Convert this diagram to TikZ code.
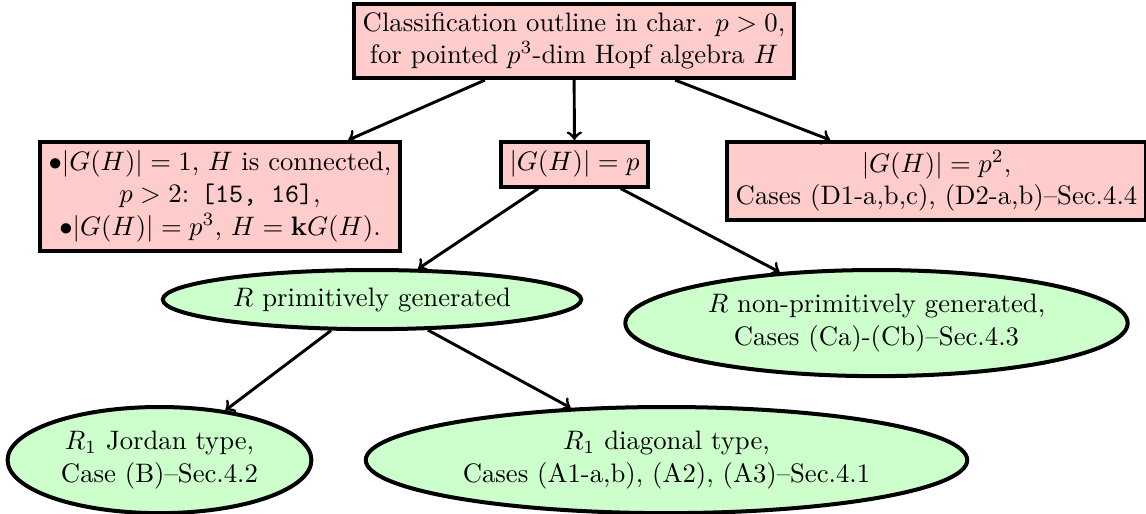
\documentclass[tikz,border=0pt]{standalone}
\usetikzlibrary{shapes.geometric}
\begin{document}
\begin{tikzpicture}[x=0.3745pt,y=-0.3745pt,
  pinkbox/.style={draw, line width=1.5pt, fill=red!20, align=center, rectangle},
  greenell/.style={draw, line width=1.5pt, fill=green!20, align=center, ellipse},
  arr/.style={->, line width=1.1pt}]
\useasboundingbox (0,0) rectangle (1146,513);
\node[pinkbox] (top) at (574,41) {Classification outline in char. $p>0$,\\ for pointed $p^3$-dim Hopf algebra $H$};
\node[pinkbox, anchor=north] (left) at (220,140) {$\bullet|G(H)|=1$, $H$ is connected,\\ $p>2$: \texttt{[15, 16]},\\ $\bullet|G(H)|=p^3$, $H=\mathbf{k}G(H)$.};
\node[pinkbox, anchor=north] (mid) at (574.5,140) {$|G(H)|=p$};
\node[pinkbox, anchor=north] (right) at (936.5,140) {$|G(H)|=p^2$,\\ Cases (D1-a,b,c), (D2-a,b)--Sec.4.4};
\node[greenell, anchor=north] (prim) at (372,268) {$R$ primitively generated};
\node[greenell, anchor=north] (nonprim) at (876.5,268) {$R$ non-primitively generated,\\ Cases (Ca)-(Cb)--Sec.4.3};
\node[greenell, anchor=north] (jordan) at (159.5,405) {$R_1$ Jordan type,\\ Case (B)--Sec.4.2};
\node[greenell, anchor=north] (diag) at (666.5,405) {$R_1$ diagonal type,\\ Cases (A1-a,b), (A2), (A3)--Sec.4.1};
\draw[arr] (top) -- (left);
\draw[arr] (top) -- (mid);
\draw[arr] (top) -- (right);
\draw[arr] (mid) -- (prim);
\draw[arr] (mid) -- (nonprim);
\draw[arr] (prim) -- (jordan);
\draw[arr] (prim) -- (diag);
\end{tikzpicture}
\end{document}
